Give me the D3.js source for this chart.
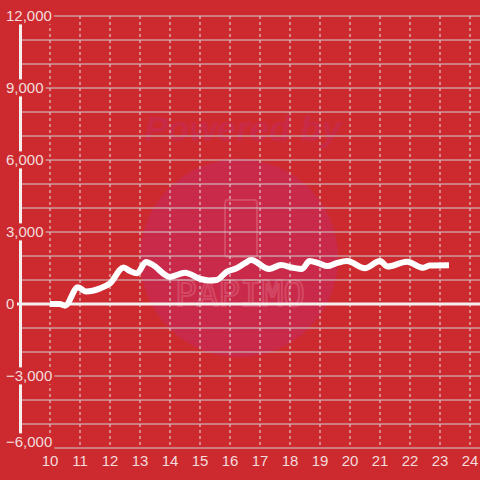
<!DOCTYPE html>
<html>
<head>
<meta charset="utf-8">
<script src="https://cdn.jsdelivr.net/npm/d3@7"></script>
<style>
  body { margin: 0; background: #cd2a30; }
  svg { display: block; }
</style>
</head>
<body>
<div id="chart"></div>
<script>
// data
const xs = [10, 10.33, 10.5, 10.93, 11.2, 11.67, 12, 12.45, 12.67, 12.9, 13.2, 13.4, 14, 14.5, 15, 15.3, 15.55, 15.9, 16.2, 16.5, 16.7, 17.3, 17.7, 18.1, 18.4, 18.65, 18.95, 19.25, 19.55, 19.9, 20.5, 21, 21.25, 21.9, 22.45, 22.65, 23.3];
const values = [0, 0, -70, 700, 520, 650, 860, 1520, 1370, 1280, 1750, 1650, 1130, 1300, 1050, 980, 1000, 1350, 1480, 1700, 1830, 1460, 1620, 1510, 1460, 1790, 1700, 1580, 1700, 1790, 1490, 1790, 1560, 1760, 1510, 1600, 1610];
const xTicks = [10, 11, 12, 13, 14, 15, 16, 17, 18, 19, 20, 21, 22, 23, 24];
const yTicks = [-6000, -3000, 0, 3000, 6000, 9000, 12000];
const yGrid = d3.range(-6000, 12001, 1000);

const width = 480, height = 480;
const bg = '#cd2a30';
const labelColor = '#f3dcdc';

const svg = d3.select('#chart').append('svg')
    .attr('width', width)
    .attr('height', height);

svg.append('rect').attr('width', width).attr('height', height).attr('fill', bg);

const x = d3.scaleLinear().domain([10, 24]).range([50, 470]);
const y = d3.scaleLinear().domain([-6000, 12000]).range([448, 16]);

// watermark
const wm = svg.append('g').attr('pointer-events', 'none');
wm.append('circle').attr('cx', 239).attr('cy', 258).attr('r', 99)
    .attr('fill', '#c92a4a');
wm.append('text').attr('x', 243).attr('y', 141)
    .attr('text-anchor', 'middle')
    .style('font', 'italic bold 35px "Liberation Sans", Arial, sans-serif')
    .attr('fill', '#c92a46')
    .text('Powered by');
wm.append('rect').attr('x', 225).attr('y', 200).attr('width', 32).attr('height', 57).attr('rx', 3)
    .attr('fill', 'none').attr('stroke', '#e07088').attr('stroke-opacity', 0.45).attr('stroke-width', 2);
wm.append('text').attr('x', 240).attr('y', 306)
    .attr('text-anchor', 'middle')
    .style('font', '36px "DejaVu Sans Mono", monospace')
    .attr('fill', 'none').attr('stroke', '#e07088').attr('stroke-opacity', 0.45).attr('stroke-width', 2)
    .text('PAPIMO');

// horizontal grid
svg.append('g').selectAll('line')
  .data(yGrid)
  .enter()
  .append('line')
    .attr('x1', 20).attr('x2', width)
    .attr('y1', d => y(d)).attr('y2', d => y(d))
    .style('stroke', '#cfcfcf')
    .style('stroke-width', 1);

// vertical dashed grid
svg.append('g').selectAll('line')
  .data(xTicks)
  .enter()
  .append('line')
    .attr('x1', d => x(d)).attr('x2', d => x(d))
    .attr('y1', 16).attr('y2', 448)
    .style('stroke', '#e2e2e2')
    .style('stroke-width', 1)
    .style('stroke-dasharray', '3,3');

// zero line and y axis line
svg.append('line')
    .attr('x1', 17).attr('x2', width)
    .attr('y1', y(0)).attr('y2', y(0))
    .style('stroke', '#f4f0f0').style('stroke-width', 3);
svg.append('line')
    .attr('x1', 20.5).attr('x2', 20.5)
    .attr('y1', 16).attr('y2', 448)
    .style('stroke', '#f4f0f0').style('stroke-width', 3);

// data line
const line = d3.line()
    .x((d, i) => x(xs[i]))
    .y(d => y(d))
    .curve(d3.curveMonotoneX);
svg.append('path')
    .datum(values)
    .attr('d', line)
    .attr('fill', 'none')
    .style('stroke', '#ffffff')
    .style('stroke-width', 6)
    .style('stroke-linejoin', 'round');

// y labels with background boxes, the lowest one kept above the bottom line
const yl = svg.append('g').selectAll('g')
  .data(yTicks)
  .enter()
  .append('g');
yl.append('text')
    .attr('x', 6)
    .attr('y', d => Math.min(y(d), 442))
    .attr('dy', '0.36em')
    .style('font', '15px "Liberation Sans", Arial, sans-serif')
    .attr('fill', labelColor)
    .text(d => d3.format(',')(d));
yl.each(function() {
    const g = d3.select(this);
    const b = g.select('text').node().getBBox();
    g.insert('rect', 'text')
        .attr('x', b.x - 2).attr('y', b.y)
        .attr('width', b.width + 4).attr('height', b.height)
        .attr('fill', bg);
});

// x labels
svg.append('g').selectAll('text')
  .data(xTicks)
  .enter()
  .append('text')
    .attr('x', d => x(d))
    .attr('y', 466)
    .attr('text-anchor', 'middle')
    .style('font', '15px "Liberation Sans", Arial, sans-serif')
    .attr('fill', labelColor)
    .text(d => d);
</script>
</body>
</html>
